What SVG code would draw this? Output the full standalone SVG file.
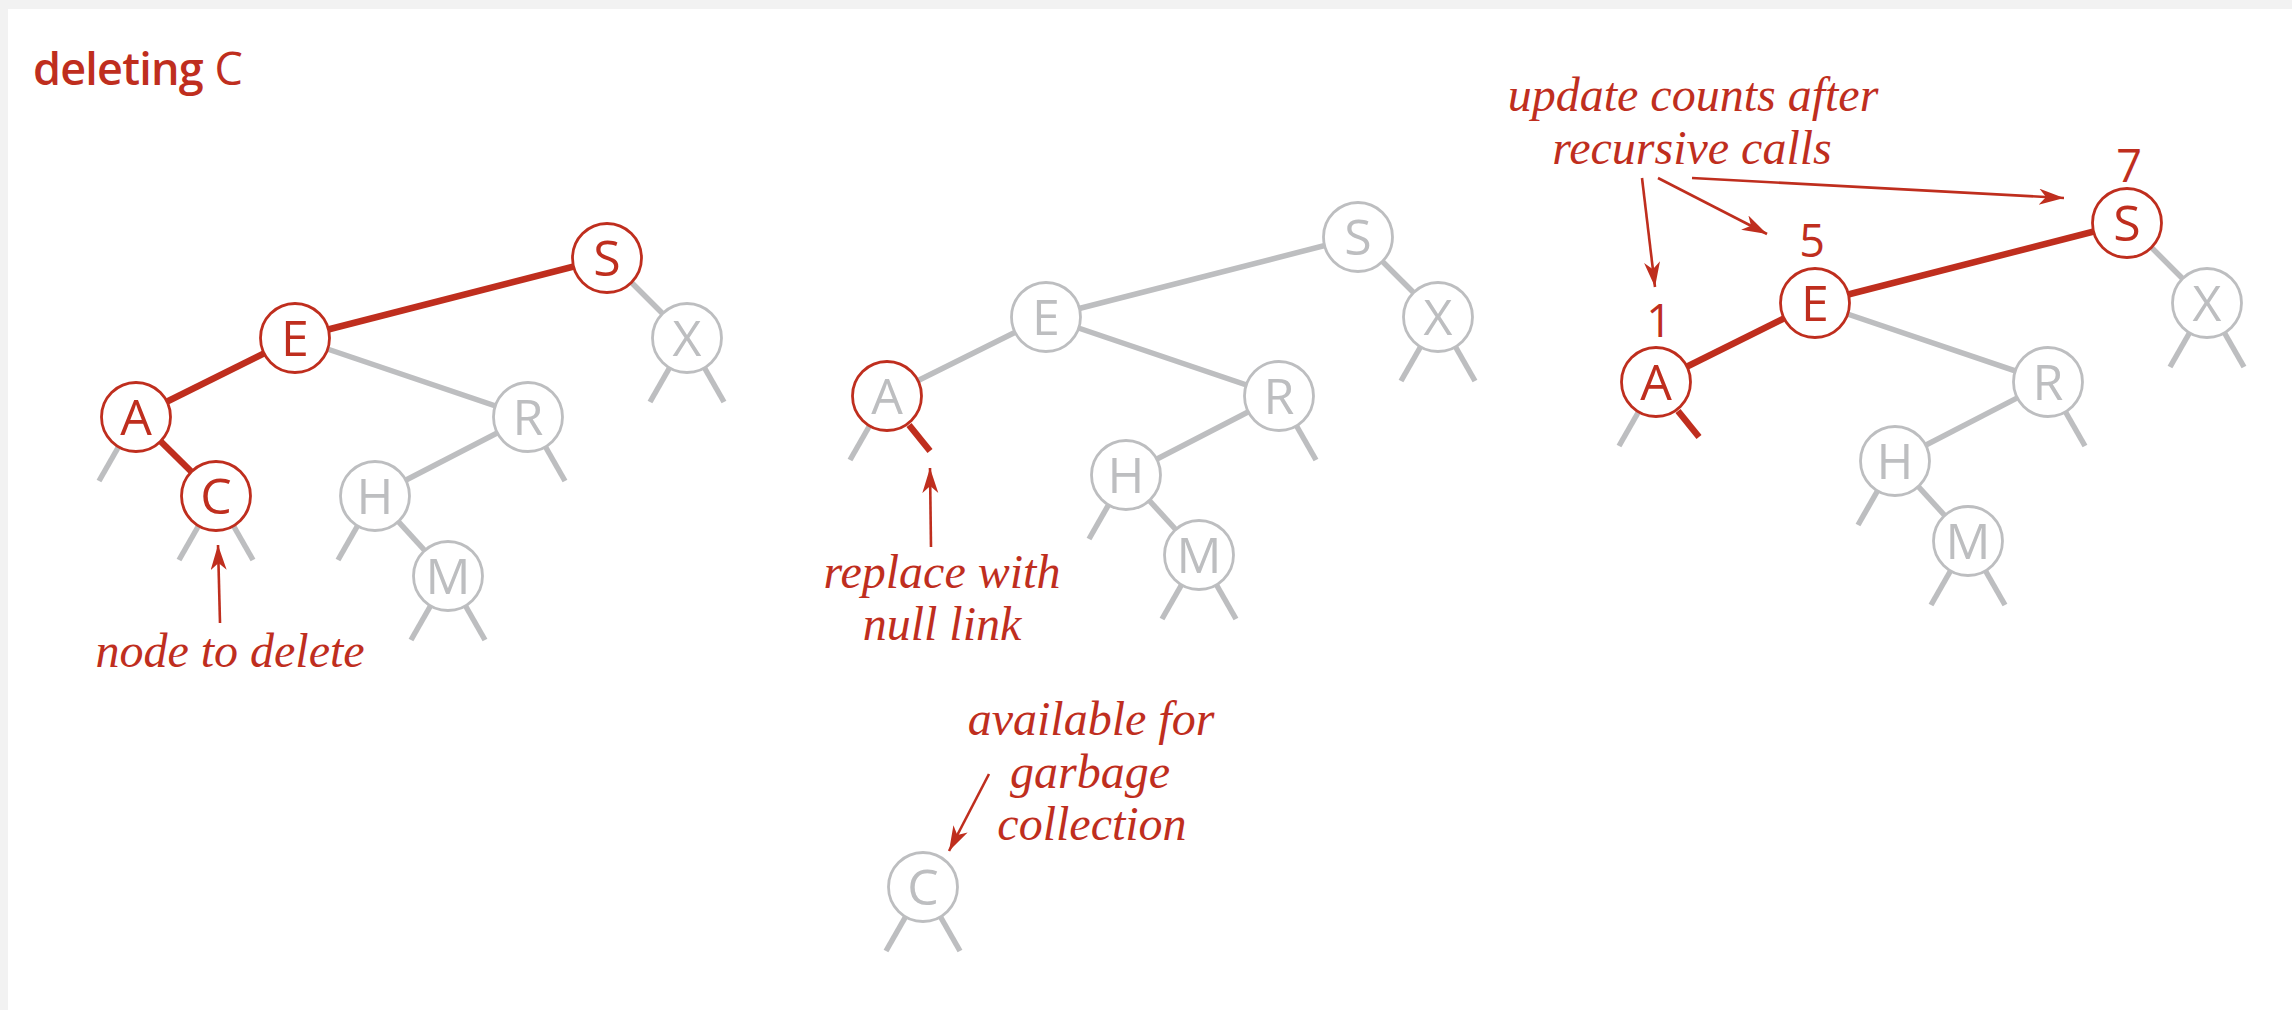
<svg xmlns="http://www.w3.org/2000/svg" width="2292" height="1010" viewBox="0 0 2292 1010">
<style>
.bg{fill:#F2F2F2}
.panel{fill:#FFFFFF}
.ge{stroke:#BDBEC0;stroke-width:5.5;fill:none}
.re{stroke:#BF2E1E;stroke-width:6.5;fill:none}
.rn circle{fill:#FFFFFF;stroke:#BF2E1E;stroke-width:2.8}
.gn circle{fill:#FFFFFF;stroke:#BDBEC0;stroke-width:2.8}
.hn circle{fill:#FFFFFF;stroke:#BF2E1E;stroke-width:2.8}
.rn text{fill:#BF2E1E}
.gn text,.hn text{fill:#BDBEC0}
.nt{font-family:"Open Sans","Noto Sans","DejaVu Sans",sans-serif;font-size:50px;text-anchor:middle}
.cnt{font-family:"Open Sans","Noto Sans","DejaVu Sans",sans-serif;font-size:45px;text-anchor:middle;fill:#BF2E1E}
.lbl{font-family:"Liberation Serif","DejaVu Serif",serif;font-style:italic;font-size:48px;fill:#BF2E1E;text-anchor:middle}
.arr{stroke:#BF2E1E;stroke-width:2.6;fill:none;marker-end:url(#ah)}
.ttl{font-family:"Open Sans","Noto Sans","DejaVu Sans",sans-serif;font-size:45px;fill:#BF2E1E}
</style>
<defs>
<marker id="ah" markerUnits="userSpaceOnUse" markerWidth="26" markerHeight="18" refX="25" refY="8" orient="auto">
<path d="M0,0 L25,8 L0,16 L7,8 Z" fill="#BF2E1E"/>
</marker>
</defs>
<rect class="bg" x="0" y="0" width="2292" height="1010"/>
<rect class="panel" x="8" y="9" width="2284" height="1001"/>
<g id="title">
<text class="ttl" x="33" y="85"><tspan font-weight="600" letter-spacing="-0.8">deleting</tspan><tspan font-weight="400"> C</tspan></text>
</g>
<g id="connectors">
<!-- tree 1 -->
<line class="ge" x1="295" y1="338" x2="528" y2="417"/>
<line class="ge" x1="528" y1="417" x2="375" y2="496"/>
<line class="ge" x1="375" y1="496" x2="448" y2="576"/>
<line class="ge" x1="607" y1="258" x2="687" y2="338"/>
<line class="re" x1="607" y1="258" x2="295" y2="338"/>
<line class="re" x1="295" y1="338" x2="136" y2="417"/>
<line class="re" x1="136" y1="417" x2="216" y2="496"/>
<line class="ge" x1="119" y1="446" x2="99" y2="481"/>
<line class="ge" x1="199" y1="525" x2="179" y2="560"/>
<line class="ge" x1="233" y1="525" x2="253" y2="560"/>
<line class="ge" x1="358" y1="525" x2="338" y2="560"/>
<line class="ge" x1="431" y1="605" x2="411" y2="640"/>
<line class="ge" x1="465" y1="605" x2="485" y2="640"/>
<line class="ge" x1="545" y1="446" x2="565" y2="481"/>
<line class="ge" x1="670" y1="367" x2="650" y2="402"/>
<line class="ge" x1="704" y1="367" x2="724" y2="402"/>
<!-- tree 2 -->
<line class="ge" x1="1358" y1="237" x2="1046" y2="317"/>
<line class="ge" x1="1046" y1="317" x2="887" y2="396"/>
<line class="ge" x1="1046" y1="317" x2="1279" y2="396"/>
<line class="ge" x1="1279" y1="396" x2="1126" y2="475"/>
<line class="ge" x1="1126" y1="475" x2="1199" y2="555"/>
<line class="ge" x1="1358" y1="237" x2="1438" y2="317"/>
<line class="ge" x1="870" y1="425" x2="850" y2="460"/>
<line class="re" x1="909" y1="425" x2="930" y2="451"/>
<line class="ge" x1="1109" y1="504" x2="1089" y2="539"/>
<line class="ge" x1="1182" y1="584" x2="1162" y2="619"/>
<line class="ge" x1="1216" y1="584" x2="1236" y2="619"/>
<line class="ge" x1="1296" y1="425" x2="1316" y2="460"/>
<line class="ge" x1="1421" y1="346" x2="1401" y2="381"/>
<line class="ge" x1="1455" y1="346" x2="1475" y2="381"/>
<line class="ge" x1="906" y1="916" x2="886" y2="951"/>
<line class="ge" x1="940" y1="916" x2="960" y2="951"/>
<!-- tree 3 -->
<line class="ge" x1="1815" y1="303" x2="2048" y2="382"/>
<line class="ge" x1="2048" y1="382" x2="1895" y2="461"/>
<line class="ge" x1="1895" y1="461" x2="1968" y2="541"/>
<line class="ge" x1="2127" y1="223" x2="2207" y2="303"/>
<line class="re" x1="2127" y1="223" x2="1815" y2="303"/>
<line class="re" x1="1815" y1="303" x2="1656" y2="382"/>
<line class="ge" x1="1639" y1="411" x2="1619" y2="446"/>
<line class="re" x1="1678" y1="411" x2="1699" y2="437"/>
<line class="ge" x1="1878" y1="490" x2="1858" y2="525"/>
<line class="ge" x1="1951" y1="570" x2="1931" y2="605"/>
<line class="ge" x1="1985" y1="570" x2="2005" y2="605"/>
<line class="ge" x1="2065" y1="411" x2="2085" y2="446"/>
<line class="ge" x1="2190" y1="332" x2="2170" y2="367"/>
<line class="ge" x1="2224" y1="332" x2="2244" y2="367"/>
<!-- annotation arrows -->
<line class="arr" x1="220" y1="623" x2="218" y2="545"/>
<line class="arr" x1="931" y1="547" x2="930" y2="468"/>
<line class="arr" x1="989" y1="774" x2="949" y2="851"/>
<line class="arr" x1="1642" y1="178" x2="1655" y2="287"/>
<line class="arr" x1="1658" y1="178" x2="1767" y2="234"/>
<line class="arr" x1="1692" y1="178" x2="2064" y2="198"/>
</g>
<!-- tree 1 nodes -->
<g id="t1-S" class="rn"><circle cx="607" cy="258" r="34.5"/><text class="nt" x="607" y="276">S</text></g>
<g id="t1-E" class="rn"><circle cx="295" cy="338" r="34.5"/><text class="nt" x="295" y="356">E</text></g>
<g id="t1-A" class="rn"><circle cx="136" cy="417" r="34.5"/><text class="nt" x="136" y="435">A</text></g>
<g id="t1-C" class="rn"><circle cx="216" cy="496" r="34.5"/><text class="nt" x="216" y="514">C</text></g>
<g id="t1-X" class="gn"><circle cx="687" cy="338" r="34.5"/><text class="nt" x="687" y="356">X</text></g>
<g id="t1-R" class="gn"><circle cx="528" cy="417" r="34.5"/><text class="nt" x="528" y="435">R</text></g>
<g id="t1-H" class="gn"><circle cx="375" cy="496" r="34.5"/><text class="nt" x="375" y="514">H</text></g>
<g id="t1-M" class="gn"><circle cx="448" cy="576" r="34.5"/><text class="nt" x="448" y="594">M</text></g>
<!-- tree 2 nodes -->
<g id="t2-S" class="gn"><circle cx="1358" cy="237" r="34.5"/><text class="nt" x="1358" y="255">S</text></g>
<g id="t2-E" class="gn"><circle cx="1046" cy="317" r="34.5"/><text class="nt" x="1046" y="335">E</text></g>
<g id="t2-A" class="hn"><circle cx="887" cy="396" r="34.5"/><text class="nt" x="887" y="414">A</text></g>
<g id="t2-X" class="gn"><circle cx="1438" cy="317" r="34.5"/><text class="nt" x="1438" y="335">X</text></g>
<g id="t2-R" class="gn"><circle cx="1279" cy="396" r="34.5"/><text class="nt" x="1279" y="414">R</text></g>
<g id="t2-H" class="gn"><circle cx="1126" cy="475" r="34.5"/><text class="nt" x="1126" y="493">H</text></g>
<g id="t2-M" class="gn"><circle cx="1199" cy="555" r="34.5"/><text class="nt" x="1199" y="573">M</text></g>
<g id="t2-C" class="gn"><circle cx="923" cy="887" r="34.5"/><text class="nt" x="923" y="905">C</text></g>
<!-- tree 3 nodes -->
<g id="t3-S" class="rn"><circle cx="2127" cy="223" r="34.5"/><text class="nt" x="2127" y="241">S</text></g>
<g id="t3-E" class="rn"><circle cx="1815" cy="303" r="34.5"/><text class="nt" x="1815" y="321">E</text></g>
<g id="t3-A" class="rn"><circle cx="1656" cy="382" r="34.5"/><text class="nt" x="1656" y="400">A</text></g>
<g id="t3-X" class="gn"><circle cx="2207" cy="303" r="34.5"/><text class="nt" x="2207" y="321">X</text></g>
<g id="t3-R" class="gn"><circle cx="2048" cy="382" r="34.5"/><text class="nt" x="2048" y="400">R</text></g>
<g id="t3-H" class="gn"><circle cx="1895" cy="461" r="34.5"/><text class="nt" x="1895" y="479">H</text></g>
<g id="t3-M" class="gn"><circle cx="1968" cy="541" r="34.5"/><text class="nt" x="1968" y="559">M</text></g>
<g id="counts">
<text class="cnt" x="2129" y="182">7</text>
<text class="cnt" x="1812" y="257">5</text>
<text class="cnt" x="1659" y="337">1</text>
</g>
<g id="labels">
<text class="lbl" x="230" y="667">node to delete</text>
<text class="lbl" x="942" y="588">replace with<tspan x="942" dy="52">null link</tspan></text>
<text class="lbl" x="1091" y="735">available for<tspan x="1090" dy="53">garbage</tspan><tspan x="1092" dy="52">collection</tspan></text>
<text class="lbl" x="1693" y="111">update counts after<tspan x="1692" dy="53">recursive calls</tspan></text>
</g>
</svg>
